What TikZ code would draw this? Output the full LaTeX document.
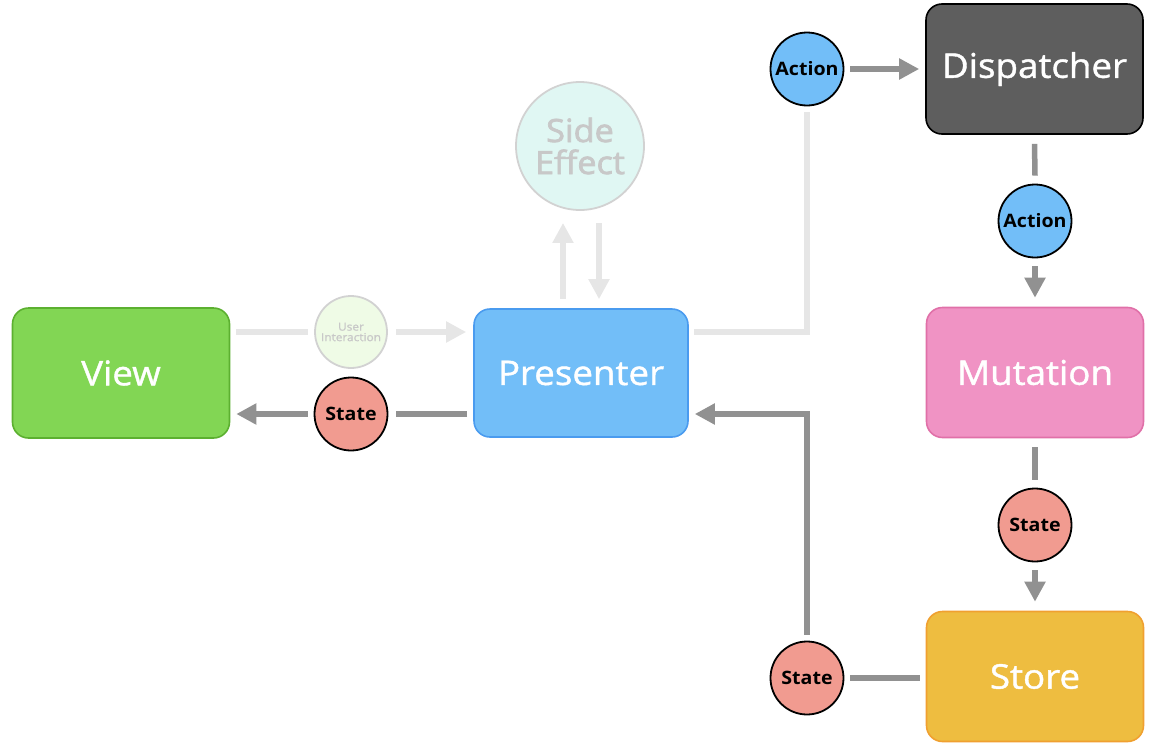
\documentclass[tikz,border=0pt]{standalone}
\usepackage{fontspec}
\setmainfont{Open Sans}
\newfontfamily\medfont{Open Sans}[FakeBold=1.2,FakeStretch=1.08]
\newfontfamily\semfont{Open Sans}[FakeBold=2.2,FakeStretch=1.07]
\newfontfamily\tokfont{Open Sans}[FakeStretch=1.06]
\usetikzlibrary{arrows.meta,calc,positioning}
\definecolor{viewfill}{HTML}{82D654}
\definecolor{viewdraw}{HTML}{5CB030}
\definecolor{presfill}{HTML}{72BEF8}
\definecolor{presdraw}{HTML}{4A9BEF}
\definecolor{dispfill}{HTML}{5E5E5E}
\definecolor{mutfill}{HTML}{F093C4}
\definecolor{mutdraw}{HTML}{E070A8}
\definecolor{storefill}{HTML}{EEBD40}
\definecolor{storedraw}{HTML}{F0A030}
\definecolor{statefill}{HTML}{F19B90}
\definecolor{actfill}{HTML}{72BEF8}
\definecolor{darkline}{HTML}{919191}
\definecolor{lightline}{HTML}{E6E6E6}
\definecolor{uifill}{HTML}{EFFBE6}
\definecolor{sefill}{HTML}{E0F7F3}
\definecolor{ghostdraw}{HTML}{D2D2D2}
\definecolor{ghosttext}{HTML}{C8C8C8}
\tikzset{
  box/.style={rectangle, rounded corners=16pt, minimum width=217pt, minimum height=130pt,
    line width=1.6pt, text=white, font=\medfont\fontsize{34}{38}\selectfont, inner sep=0pt},
  token/.style={circle, minimum size=73pt, inner sep=0pt, draw=black, line width=1.8pt,
    font=\tokfont\bfseries\fontsize{18.5}{20}\selectfont, text=black},
  ghost/.style={circle, inner sep=0pt, draw=ghostdraw, line width=1.8pt, text=ghosttext, align=center},
  darkcon/.style={draw=darkline, line width=5.5pt},
  lightcon/.style={draw=lightline, line width=5.5pt},
  tip/.style={-{Triangle[length=20pt,width=20pt]}}
}
\begin{document}
\begin{tikzpicture}[x=1pt,y=-1pt]
\useasboundingbox (0,0) rectangle (1162,747);
% boxes
\node[box, fill=viewfill, draw=viewdraw] (view) at (121,373) {View};
\node[box, fill=presfill, draw=presdraw, minimum width=214pt, minimum height=128pt] (presenter) at (581,373) {Presenter};
\node[box, fill=dispfill, draw=black] (dispatcher) at (1034.5,69) {Dispatcher};
\node[box, fill=mutfill, draw=mutdraw] (mutation) at (1035,372.5) {Mutation};
\node[box, fill=storefill, draw=storedraw] (store) at (1035,676.5) {Store};
% tokens
\node[ghost, fill=uifill, minimum size=72pt, font=\medfont\fontsize{11}{10.5}\selectfont] (ui) at (351,332) {User\\Interaction};
\node[token, fill=statefill] (stateV) at (351,414) {State};
\node[ghost, fill=sefill, minimum size=128pt, font=\semfont\fontsize{32}{32}\selectfont] (side) at (580,146) {Side\\Effect};
\node[token, fill=actfill] (actT) at (807,69) {Action};
\node[token, fill=actfill] (actM) at (1035,221) {Action};
\node[token, fill=statefill] (stateM) at (1035,525) {State};
\node[token, fill=statefill] (stateB) at (807,678) {State};
% light connectors
\draw[lightcon] ($(view.east |- ui.center)+(6pt,0)$) -- ($(ui.west)+(-6pt,0)$);
\draw[lightcon, tip] ($(ui.east)+(8pt,0)$) -- ($(presenter.west |- ui.center)+(-7pt,0)$);
\draw[lightcon, tip] ($(presenter.north)+(-18pt,9pt)$) -- ($(side.south)+(-17pt,-12pt)$);
\draw[lightcon, tip] ($(side.south)+(19pt,-12pt)$) -- ($(presenter.north)+(18pt,9pt)$);
\draw[lightcon] ($(presenter.east |- ui.center)+(5pt,0)$) -| ($(actT.south)+(0,-6pt)$);
% dark connectors
\draw[darkcon] ($(presenter.west |- stateV.center)+(-6pt,0)$) -- ($(stateV.east)+(8pt,0)$);
\draw[darkcon, tip] ($(stateV.west)+(-6pt,0)$) -- ($(view.east |- stateV.center)+(6pt,0)$);
\draw[darkcon, tip] ($(actT.east)+(6pt,0)$) -- ($(dispatcher.west |- actT.center)+(-6pt,0)$);
\draw[darkcon] ($(dispatcher.south)+(0,-9pt)$) -- ($(actM.north)+(0,8pt)$);
\draw[darkcon, tip] ($(actM.south)+(0,-8pt)$) -- ($(mutation.north)+(0,9pt)$);
\draw[darkcon] ($(mutation.south)+(0,-9pt)$) -- ($(stateM.north)+(0,8pt)$);
\draw[darkcon, tip] ($(stateM.south)+(0,-8pt)$) -- ($(store.north)+(0,9pt)$);
\draw[darkcon] ($(store.west |- stateB.center)+(-6pt,0)$) -- ($(stateB.east)+(6pt,0)$);
\draw[darkcon, tip] ($(stateB.north)+(0,6pt)$) |- ($(presenter.east |- stateV.center)+(6pt,0)$);
\end{tikzpicture}
\end{document}
